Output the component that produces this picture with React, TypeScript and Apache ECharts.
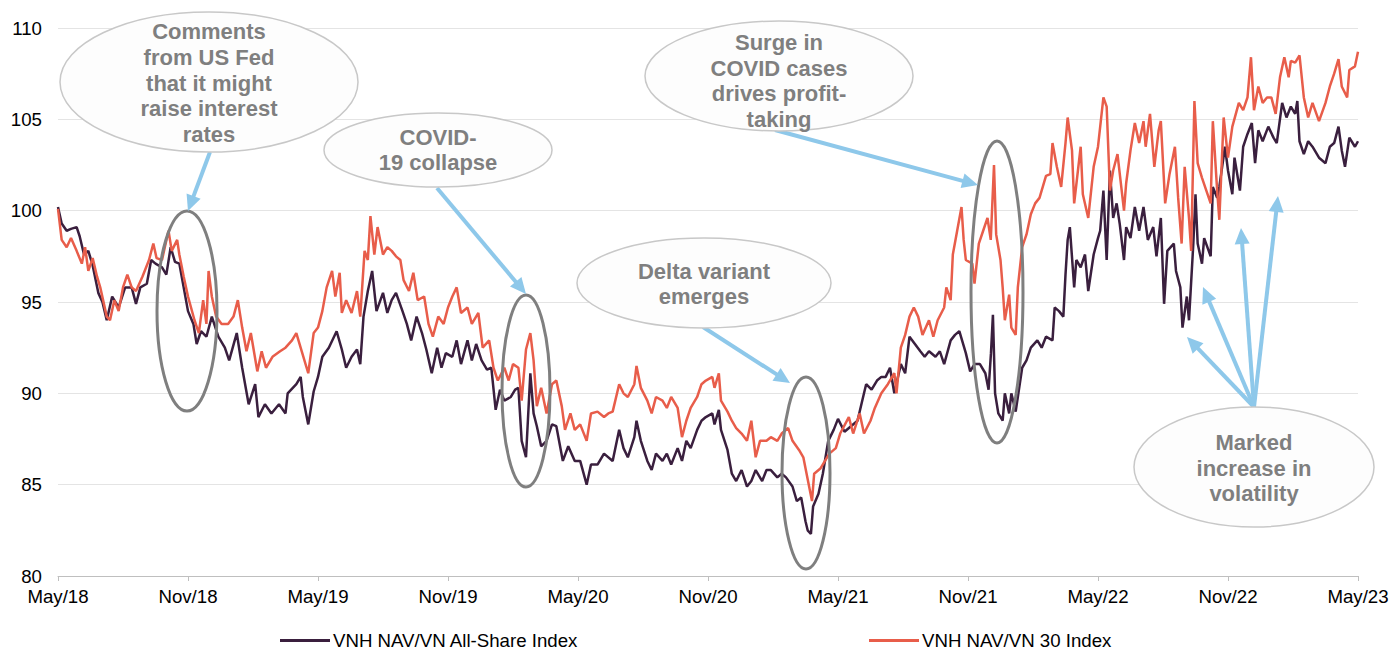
import React, { useEffect, useRef } from "react";
import * as echarts from "echarts";

// x = months since May 2018, y = index value
const xTickLabels = ["May/18", "Nov/18", "May/19", "Nov/19", "May/20", "Nov/20", "May/21", "Nov/21", "May/22", "Nov/22", "May/23"];
const seriesNames = ["VNH NAV/VN All-Share Index", "VNH NAV/VN 30 Index"];

const allSharePoints: [number, number][] = [
  [0, 100.2], [0.17, 99.3], [0.4, 98.9], [0.6, 99.0], [0.86, 99.1], [1.0, 98.6], [1.2, 97.6], [1.4, 97.8], [1.6, 97.0], [1.86, 95.5], [2.05, 95.0], [2.25, 94.0], [2.5, 95.3], [2.8, 94.7], [3.1, 95.8], [3.4, 95.8], [3.6, 94.9], [3.8, 95.8], [4.1, 96.0], [4.3, 97.3], [4.5, 97.1], [4.8, 96.9], [5.0, 96.5], [5.2, 98.0], [5.4, 97.2], [5.6, 97.1], [5.8, 95.8], [6.0, 94.5], [6.25, 93.8], [6.4, 92.7], [6.6, 93.4], [6.85, 93.1], [7.1, 94.2], [7.4, 93.1], [7.7, 92.5], [7.9, 91.8], [8.25, 93.3], [8.5, 91.4], [8.8, 89.4], [9.1, 90.5], [9.25, 88.7], [9.55, 89.4], [9.85, 88.9], [10.2, 89.4], [10.5, 88.9], [10.6, 90.0], [11.0, 90.5], [11.2, 90.9], [11.3, 89.8], [11.55, 88.3], [11.8, 90.1], [12.0, 90.9],
  [12.2, 92.0], [12.5, 92.5], [12.86, 93.4], [13.1, 92.4], [13.3, 91.4], [13.55, 92.0], [13.8, 92.4], [13.95, 91.6], [14.1, 94.2], [14.3, 95.6], [14.5, 96.7], [14.7, 94.5], [15.0, 95.5], [15.2, 94.4], [15.4, 95.1], [15.6, 95.5], [15.9, 94.5], [16.1, 93.8], [16.3, 92.9], [16.55, 94.2], [16.8, 93.3], [17.0, 92.4], [17.25, 91.1], [17.5, 92.5], [17.7, 91.4], [17.9, 92.2], [18.2, 92.0], [18.4, 92.9], [18.6, 91.6], [18.9, 92.9], [19.1, 91.8], [19.3, 92.7], [19.55, 91.8], [19.8, 91.3], [20.0, 91.4], [20.2, 89.1], [20.4, 90.2], [20.6, 89.6], [20.9, 89.8], [21.1, 90.2], [21.25, 90.3], [21.4, 87.4], [21.6, 86.5], [21.8, 91.1], [21.95, 88.9], [22.1, 88.2], [22.3, 87.1], [22.55, 87.4], [22.8, 88.3], [23.0, 88.2], [23.3, 86.3], [23.55, 87.1], [23.85, 86.3],
  [24.1, 86.3], [24.4, 85.0], [24.6, 86.1], [24.9, 86.1], [25.2, 86.7], [25.6, 86.3], [25.9, 88.0], [26.1, 87.0], [26.3, 86.5], [26.6, 87.6], [26.7, 88.5], [26.9, 87.4], [27.2, 86.3], [27.4, 85.8], [27.6, 86.7], [27.9, 86.3], [28.1, 86.7], [28.3, 86.1], [28.6, 87.0], [28.8, 86.3], [29.0, 87.4], [29.2, 87.0], [29.5, 88.0], [29.7, 88.5], [29.9, 88.7], [30.2, 88.9], [30.3, 88.3], [30.5, 89.1], [30.6, 88.0], [30.9, 86.9], [31.1, 85.6], [31.3, 85.2], [31.55, 85.8], [31.8, 84.9], [32.0, 85.2], [32.2, 85.8], [32.5, 85.2], [32.7, 85.8], [32.9, 85.8], [33.2, 85.4], [33.4, 85.6], [33.6, 85.4], [33.9, 84.9], [34.1, 84.1], [34.3, 84.3], [34.5, 83.0], [34.6, 82.5], [34.75, 82.3], [34.85, 83.8], [35.1, 84.5], [35.3, 85.6], [35.55, 87.4], [35.8, 88.0], [36.0, 88.6],
  [36.3, 87.9], [36.6, 88.2], [36.9, 88.5], [37.2, 90.0], [37.3, 90.5], [37.55, 90.2], [37.8, 90.7], [38.0, 90.9], [38.2, 90.9], [38.4, 91.4], [38.6, 90.0], [38.9, 91.6], [39.1, 91.1], [39.3, 93.1], [39.55, 92.7], [39.8, 92.3], [40.0, 92.0], [40.2, 92.3], [40.5, 92.0], [40.7, 92.3], [40.9, 91.6], [41.2, 92.9], [41.4, 93.2], [41.6, 93.4], [41.9, 92.2], [42.1, 91.2], [42.3, 91.6], [42.55, 91.6], [42.8, 91.1], [42.95, 90.2], [43.06, 92.2], [43.15, 94.3], [43.25, 90.0], [43.4, 88.9], [43.6, 88.5], [43.7, 90.0], [43.9, 88.9], [44.0, 90.0], [44.2, 89.0], [44.5, 91.4], [44.7, 91.8], [44.9, 92.5], [45.2, 92.9], [45.4, 92.5], [45.6, 93.1], [45.9, 92.9], [46.0, 94.7], [46.2, 94.5], [46.4, 94.2], [46.5, 96.5], [46.6, 98.4], [46.7, 99.1], [46.9, 95.8], [47.0, 97.3], [47.2, 96.9], [47.4, 97.6], [47.55, 95.6], [47.8, 97.6], [48.0, 98.5],
  [48.1, 98.9], [48.25, 101.1], [48.4, 97.3], [48.55, 102.2], [48.7, 99.6], [48.86, 100.4], [49.0, 99.3], [49.2, 97.3], [49.3, 99.1], [49.5, 98.5], [49.7, 100.2], [49.9, 98.9], [50.1, 100.2], [50.3, 98.4], [50.55, 99.1], [50.7, 97.5], [50.9, 99.6], [51.05, 94.9], [51.2, 97.8], [51.5, 98.2], [51.6, 96.7], [51.8, 95.8], [51.9, 93.6], [52.1, 95.3], [52.2, 94.0], [52.4, 98.2], [52.5, 100.9], [52.6, 98.2], [52.8, 97.1], [52.9, 98.5], [53.2, 97.5], [53.3, 101.3], [53.5, 100.7], [53.6, 101.3], [53.86, 103.5], [54.0, 102.2], [54.2, 100.9], [54.3, 102.9], [54.55, 101.1], [54.7, 103.5], [54.9, 104.2], [55.1, 104.8], [55.25, 102.6], [55.4, 104.4], [55.6, 103.8], [55.86, 104.6], [56.1, 104.0], [56.25, 103.7], [56.5, 105.9], [56.7, 105.1], [56.9, 105.7], [57.1, 105.3], [57.2, 106.0], [57.3, 103.8], [57.5, 103.1], [57.7, 103.8], [57.9, 103.5], [58.2, 102.9], [58.5, 102.6], [58.7, 103.5], [58.9, 103.7], [59.1, 104.6], [59.25, 103.3], [59.4, 102.4], [59.6, 104.0], [59.86, 103.5], [60, 103.8],
];

const vn30Points: [number, number][] = [
  [0, 100.1], [0.17, 98.4], [0.4, 98.0], [0.6, 98.5], [0.86, 97.8], [1.1, 97.1], [1.25, 98.0], [1.4, 96.7], [1.6, 97.4], [1.8, 96.4], [1.95, 95.8], [2.25, 94.2], [2.4, 94.0], [2.6, 95.1], [2.8, 94.5], [3.0, 95.8], [3.2, 96.5], [3.4, 95.8], [3.6, 95.6], [3.9, 96.4], [4.2, 97.3], [4.4, 98.2], [4.55, 97.4], [4.8, 97.3], [5.1, 98.9], [5.25, 97.8], [5.5, 98.4], [5.6, 97.6], [5.8, 96.4], [6.0, 95.3], [6.3, 94.0], [6.5, 93.3], [6.7, 95.1], [6.85, 93.8], [6.95, 96.7], [7.1, 95.3], [7.3, 94.2], [7.55, 93.8], [7.85, 93.8], [8.1, 94.2], [8.3, 95.1], [8.5, 93.6], [8.7, 92.3], [8.9, 93.3], [9.2, 91.2], [9.4, 92.3], [9.6, 91.4], [9.9, 92.0], [10.25, 92.3], [10.5, 92.5], [10.8, 92.9], [11.0, 93.3], [11.25, 92.3], [11.55, 91.1], [11.8, 93.3], [12.0, 93.6],
  [12.2, 94.5], [12.4, 95.8], [12.65, 96.7], [12.8, 95.3], [13.0, 96.6], [13.1, 94.4], [13.3, 95.1], [13.55, 94.4], [13.8, 95.6], [13.95, 94.2], [14.15, 97.8], [14.3, 97.3], [14.42, 99.7], [14.6, 97.6], [14.75, 99.1], [15.0, 97.6], [15.2, 98.0], [15.4, 97.8], [15.6, 97.5], [15.8, 97.3], [15.95, 96.2], [16.2, 95.6], [16.4, 96.6], [16.6, 95.1], [16.9, 95.3], [17.1, 93.8], [17.3, 93.1], [17.55, 94.2], [17.8, 93.8], [18.0, 94.7], [18.2, 95.3], [18.4, 95.8], [18.6, 94.4], [18.9, 94.7], [19.1, 93.8], [19.4, 94.4], [19.6, 92.5], [19.9, 92.9], [20.1, 91.4], [20.3, 90.7], [20.6, 91.4], [20.8, 90.7], [21.0, 91.6], [21.25, 91.4], [21.4, 89.6], [21.6, 92.4], [21.8, 93.3], [21.95, 91.8], [22.1, 89.3], [22.3, 90.3], [22.55, 88.9], [22.8, 90.5], [23.0, 90.7], [23.25, 89.3], [23.4, 88.0], [23.65, 88.9], [23.85, 88.0],
  [24.1, 88.3], [24.4, 87.4], [24.6, 88.9], [24.9, 89.0], [25.2, 88.7], [25.4, 88.9], [25.6, 89.0], [25.9, 90.5], [26.1, 90.0], [26.3, 89.8], [26.6, 90.5], [26.7, 91.5], [26.9, 90.3], [27.2, 89.6], [27.4, 88.9], [27.6, 89.8], [27.9, 89.6], [28.1, 89.2], [28.3, 89.8], [28.6, 89.2], [28.8, 87.6], [29.0, 88.5], [29.2, 89.2], [29.5, 89.8], [29.7, 90.5], [29.9, 90.7], [30.2, 90.9], [30.3, 90.3], [30.5, 91.1], [30.6, 89.6], [30.9, 89.0], [31.1, 88.5], [31.3, 88.1], [31.55, 87.8], [31.8, 87.4], [32.0, 88.5], [32.2, 86.5], [32.4, 87.4], [32.7, 87.4], [32.9, 87.6], [33.2, 87.4], [33.4, 87.8], [33.7, 88.1], [33.9, 87.4], [34.2, 86.9], [34.4, 86.5], [34.55, 85.6], [34.8, 84.1], [34.9, 85.6], [35.2, 85.9], [35.4, 86.3], [35.6, 86.7], [35.9, 87.0], [36.1, 87.8],
  [36.5, 88.7], [36.7, 87.8], [37.0, 88.9], [37.2, 87.8], [37.5, 88.5], [37.7, 89.2], [38.0, 90.0], [38.3, 90.5], [38.6, 91.1], [38.7, 90.0], [38.9, 92.5], [39.1, 93.2], [39.3, 94.2], [39.5, 94.7], [39.7, 94.2], [39.9, 93.2], [40.2, 94.0], [40.4, 93.1], [40.6, 94.0], [40.9, 94.7], [41.0, 95.8], [41.2, 95.1], [41.3, 97.6], [41.5, 98.9], [41.7, 100.2], [41.8, 98.4], [41.9, 97.3], [42.2, 97.1], [42.3, 96.0], [42.5, 98.2], [42.7, 98.9], [42.9, 99.6], [43.05, 98.4], [43.2, 102.5], [43.3, 98.7], [43.5, 97.3], [43.6, 95.8], [43.7, 94.0], [43.9, 95.4], [44.0, 93.6], [44.2, 93.2], [44.3, 95.8], [44.5, 98.0], [44.7, 98.7], [44.9, 99.8], [45.1, 100.4], [45.3, 100.7], [45.6, 101.9], [45.8, 102.0], [45.9, 103.7], [46.1, 102.4], [46.3, 101.3], [46.5, 103.7], [46.6, 105.1], [46.8, 103.3], [46.9, 100.4], [47.2, 103.5], [47.3, 100.9], [47.55, 99.6], [47.8, 102.4], [48.0, 103.5],
  [48.25, 106.2], [48.4, 105.7], [48.55, 101.1], [48.7, 102.2], [48.9, 103.1], [49.2, 100.0], [49.3, 101.5], [49.5, 103.3], [49.7, 104.8], [49.9, 103.7], [50.1, 104.9], [50.2, 103.5], [50.4, 105.3], [50.6, 102.4], [50.8, 104.4], [50.9, 104.9], [51.1, 100.4], [51.3, 102.0], [51.55, 103.5], [51.7, 100.7], [51.86, 98.2], [52.0, 102.4], [52.2, 99.6], [52.3, 97.8], [52.45, 106.0], [52.6, 102.6], [52.8, 101.8], [53.0, 101.1], [53.2, 100.4], [53.3, 104.9], [53.5, 101.1], [53.6, 99.5], [53.8, 105.1], [54.0, 102.9], [54.2, 104.6], [54.5, 105.9], [54.7, 105.5], [54.9, 106.2], [55.06, 108.4], [55.2, 105.5], [55.4, 106.8], [55.6, 105.9], [55.8, 106.2], [56.0, 106.2], [56.2, 105.3], [56.4, 107.3], [56.6, 108.4], [56.8, 107.3], [56.9, 108.2], [57.1, 108.1], [57.3, 108.5], [57.5, 106.2], [57.7, 105.1], [57.9, 105.9], [58.2, 104.9], [58.5, 105.9], [58.7, 106.8], [58.9, 107.5], [59.1, 108.3], [59.25, 106.8], [59.5, 106.2], [59.6, 107.7], [59.86, 107.9], [60, 108.7],
];

const calloutTexts = [
  "Comments\nfrom US Fed\nthat it might\nraise interest\nrates",
  "COVID-\n19 collapse",
  "Delta variant\nemerges",
  "Surge in\nCOVID cases\ndrives profit-\ntaking",
  "Marked\nincrease in\nvolatility",
];

// layout of annotations (pixels)
const calloutShapes = [
  { cx: 209, cy: 82, rx: 149, ry: 70, ty: 83 },
  { cx: 438, cy: 150, rx: 114, ry: 37, ty: 150 },
  { cx: 704, cy: 283, rx: 127, ry: 45, ty: 284 },
  { cx: 779, cy: 76, rx: 134, ry: 55, ty: 81 },
  { cx: 1254, cy: 467, rx: 120, ry: 60, ty: 468 },
];
const highlightShapes = [
  { cx: 187, cy: 311, rx: 30, ry: 100 },
  { cx: 526, cy: 391, rx: 24, ry: 96 },
  { cx: 806, cy: 473, rx: 24, ry: 96 },
  { cx: 997, cy: 292, rx: 26, ry: 151 },
];
const arrowShapes = [
  [210, 152, 188, 211],
  [437, 188, 526, 294],
  [703, 327, 790, 383],
  [775, 130, 978, 185],
  [1254, 407, 1187, 337],
  [1254, 407, 1203, 287],
  [1254, 407, 1241, 228],
  [1254, 407, 1278, 196],
];

const FONT = 'Arial, "Liberation Sans", sans-serif';
const FS = 18.67;
const ARROW = "#8ec8ea";

function buildGraphics() {
  const els: any[] = [];
  highlightShapes.forEach((h) => {
    els.push({
      type: "ellipse",
      z: 100,
      shape: { cx: h.cx, cy: h.cy, rx: h.rx, ry: h.ry },
      style: { fill: "none", stroke: "#7f7f7f", lineWidth: 3 },
    });
  });
  arrowShapes.forEach(([x1, y1, x2, y2]) => {
    const dx = x2 - x1;
    const dy = y2 - y1;
    const len = Math.sqrt(dx * dx + dy * dy);
    const ux = dx / len;
    const uy = dy / len;
    const L = 16;
    const W = 7.5;
    const bx = x2 - ux * L;
    const by = y2 - uy * L;
    els.push({
      type: "line",
      z: 101,
      shape: { x1, y1, x2: bx + ux * 2, y2: by + uy * 2 },
      style: { stroke: ARROW, lineWidth: 4 },
    });
    els.push({
      type: "polygon",
      z: 101,
      shape: { points: [[x2, y2], [bx - uy * W, by + ux * W], [bx + uy * W, by - ux * W]] },
      style: { fill: ARROW },
    });
  });
  calloutShapes.forEach((c, i) => {
    els.push({
      type: "ellipse",
      z: 102,
      shape: { cx: c.cx, cy: c.cy, rx: c.rx, ry: c.ry },
      style: { fill: "#fdfdfd", stroke: "#c8c8c8", lineWidth: 1.5 },
    });
    els.push({
      type: "text",
      z: 103,
      x: c.cx,
      y: c.ty,
      style: {
        text: calloutTexts[i],
        fill: "#7f7f7f",
        font: `bold 22px ${FONT}`,
        textAlign: "center",
        textVerticalAlign: "middle",
        lineHeight: 25.7,
      },
    });
  });
  return els;
}

const legendBase = {
  icon: "rect",
  itemWidth: 50,
  itemHeight: 3,
  itemGap: 4,
  padding: 0,
  top: 631,
  textStyle: { fontFamily: FONT, fontSize: FS, color: "#000", padding: [0, 0, 0, -2] },
};

export default function App() {
  const ref = useRef<HTMLDivElement>(null);
  useEffect(() => {
    if (!ref.current) return;
    const chart = echarts.init(ref.current, null, { renderer: "svg" });
    chart.setOption({
      animation: false,
      backgroundColor: "#ffffff",
      grid: { left: 58, right: 34, top: 28, bottom: 74 },
      legend: [
        { ...legendBase, data: [seriesNames[0]], left: 280 },
        { ...legendBase, data: [seriesNames[1]], left: 869 },
      ],
      xAxis: {
        type: "value",
        min: 0,
        max: 60,
        interval: 6,
        axisLine: { lineStyle: { color: "#bfbfbf", width: 1 } },
        axisTick: { show: true, length: 5, lineStyle: { color: "#bfbfbf" } },
        splitLine: { show: false },
        axisLabel: {
          fontFamily: FONT,
          fontSize: FS,
          color: "#000",
          margin: 11,
          formatter: (v: number) => xTickLabels[Math.round(v / 6)] ?? "",
        },
      },
      yAxis: {
        type: "value",
        min: 80,
        max: 110,
        interval: 5,
        axisLine: { show: false },
        axisTick: { show: false },
        splitLine: { lineStyle: { color: "#e4e4e4", width: 1 } },
        axisLabel: { fontFamily: FONT, fontSize: FS, color: "#000", margin: 16 },
      },
      series: [
        {
          name: seriesNames[0],
          type: "line",
          data: allSharePoints,
          symbol: "none",
          lineStyle: { color: "#3a1f3e", width: 2.5 },
          itemStyle: { color: "#3a1f3e" },
          z: 2,
        },
        {
          name: seriesNames[1],
          type: "line",
          data: vn30Points,
          symbol: "none",
          lineStyle: { color: "#e85d4a", width: 2.5 },
          itemStyle: { color: "#e85d4a" },
          z: 3,
        },
      ],
      graphic: buildGraphics(),
    });
    return () => chart.dispose();
  }, []);
  return (
    <div
      ref={ref}
      style={{ position: "absolute", left: 0, top: 0, width: 1392, height: 650 }}
    />
  );
}
